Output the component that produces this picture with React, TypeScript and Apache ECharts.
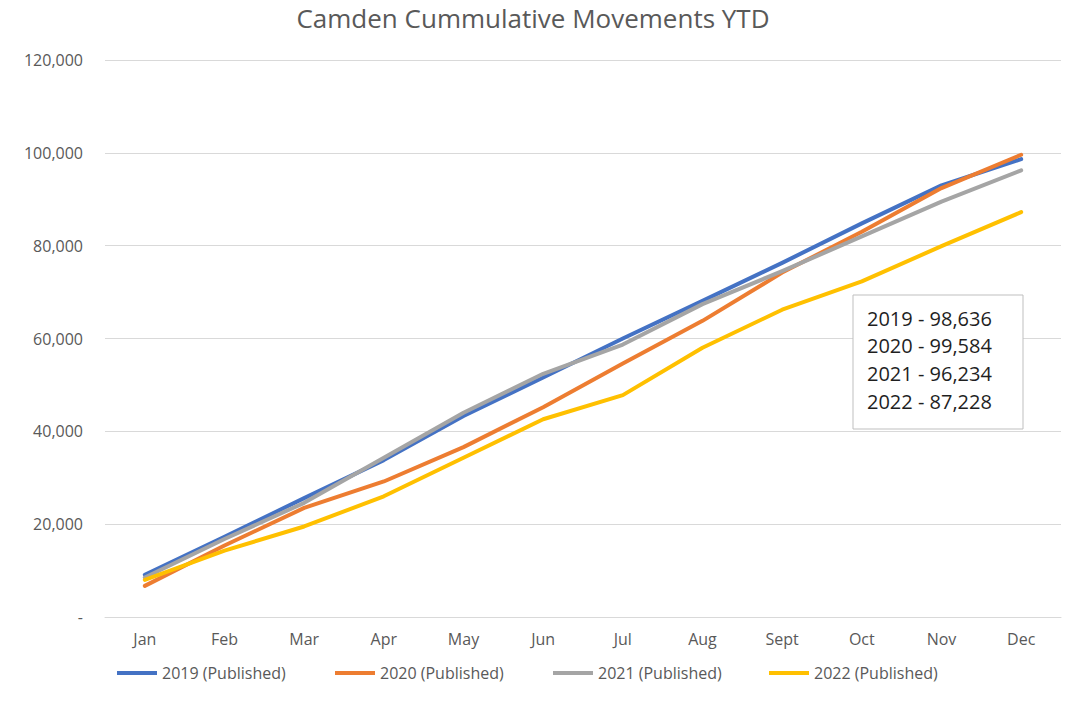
import React, { useEffect, useRef } from "react";
import * as echarts from "echarts";

const months = ["Jan", "Feb", "Mar", "Apr", "May", "Jun", "Jul", "Aug", "Sept", "Oct", "Nov", "Dec"];
const s2019 = [9100, 17300, 25600, 33800, 43300, 51600, 60000, 68100, 76300, 84800, 93000, 98636];
const s2020 = [6700, 15400, 23500, 29200, 36600, 45200, 54600, 63800, 74200, 83000, 92400, 99584];
const s2021 = [8500, 16800, 24600, 34300, 44000, 52400, 58700, 67400, 74500, 82000, 89500, 96234];
const s2022 = [8000, 14300, 19500, 26000, 34300, 42600, 47800, 58000, 66200, 72300, 79900, 87228];
const seriesNames = ["2019 (Published)", "2020 (Published)", "2021 (Published)", "2022 (Published)"];
const seriesColors = ["#4472C4", "#ED7D31", "#A5A5A5", "#FFC000"];
const annotationLines = ["2019 - 98,636", "2020 - 99,584", "2021 - 96,234", "2022 - 87,228"];
const titleText = "Camden Cummulative Movements YTD";

const FONT = "'Open Sans', sans-serif";

export default function App() {
  const ref = useRef<HTMLDivElement>(null);
  useEffect(() => {
    document.body.style.margin = "0";
    const chart = echarts.init(ref.current!, undefined, { renderer: "svg" });
    const data = [s2019, s2020, s2021, s2022];
    const legendLefts = [112, 330, 548, 764];
    chart.setOption({
      animation: false,
      backgroundColor: "#ffffff",
      textStyle: { fontFamily: FONT },
      title: {
        text: titleText,
        left: "center",
        top: 0,
        textStyle: { fontFamily: FONT, fontSize: 26, fontWeight: "normal", color: "#595959" },
      },
      legend: seriesNames.map((n, i) => ({
        data: [n],
        left: legendLefts[i],
        top: 660,
        icon: "rect",
        itemWidth: 40,
        itemHeight: 4,
        itemGap: 8,
        textStyle: { fontFamily: FONT, fontSize: 16, color: "#595959" },
      })),
      grid: { left: 105, right: 5, top: 60, bottom: 84, containLabel: false },
      xAxis: {
        type: "category",
        data: months,
        boundaryGap: true,
        axisLine: { show: true, lineStyle: { color: "#D9D9D9", width: 1 } },
        axisTick: { show: false },
        axisLabel: { color: "#595959", fontSize: 16, fontFamily: FONT, margin: 14 },
      },
      yAxis: {
        type: "value",
        min: 0,
        max: 120000,
        interval: 20000,
        axisLine: { show: false },
        axisTick: { show: false },
        axisLabel: {
          color: "#595959",
          fontSize: 16,
          fontFamily: FONT,
          margin: 22,
          formatter: (v: number) => (v === 0 ? "-" : v.toLocaleString("en-US")),
        },
        splitLine: { lineStyle: { color: "#D9D9D9", width: 1 } },
      },
      series: seriesNames.map((n, i) => ({
        name: n,
        type: "line",
        data: data[i],
        symbol: "none",
        color: seriesColors[i],
        lineStyle: { width: 4, color: seriesColors[i], cap: "round", join: "round" },
      })),
      graphic: [
        {
          type: "rect",
          shape: { x: 853, y: 295, width: 170, height: 134 },
          style: { fill: "#ffffff", stroke: "#BFBFBF", lineWidth: 1 },
          z: 100,
        },
        ...annotationLines.map((t, i) => ({
          type: "text",
          x: 867,
          y: 318 + i * 27.7,
          style: { text: t, fontFamily: FONT, fontSize: 20, fill: "#1F1F1F", verticalAlign: "middle" },
          z: 101,
        })),
      ],
    });
    return () => chart.dispose();
  }, []);
  return <div ref={ref} style={{ width: 1066, height: 701 }} />;
}
